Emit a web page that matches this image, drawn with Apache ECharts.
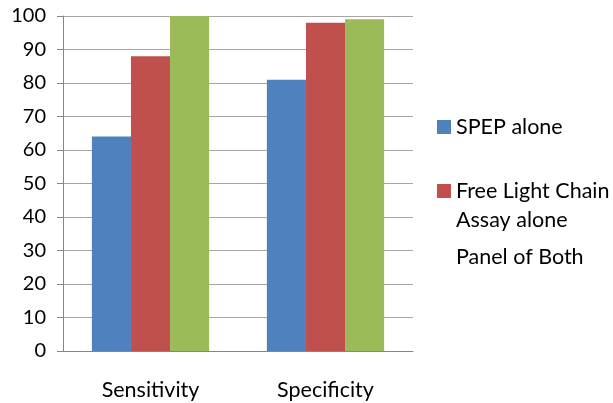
<!DOCTYPE html>
<html><head><meta charset="utf-8">
<script src="https://cdn.jsdelivr.net/npm/echarts@6/dist/echarts.min.js"></script>
<style>html,body{margin:0;padding:0;background:#fff}#c{width:613px;height:403px}</style>
</head><body><div id="c"></div>
<script>
const categories = ['Sensitivity', 'Specificity'];
const spepAlone = [64, 81];
const flcAlone = [88, 98];
const panelBoth = [100, 99];
const seriesNames = ['SPEP alone', 'Free Light Chain Assay alone', 'Panel of Both'];

const FONT = 'Lato';
const LFS = 21.5;
const chart = echarts.init(document.getElementById('c'), null, {renderer: 'canvas'});
const legendText = {fontFamily: FONT, fontSize: LFS, color: '#000'};
chart.setOption({
  animation: false,
  grid: {left: 63, right: 200, top: 16, bottom: 52},
  legend: [
    {data: [seriesNames[0]], orient: 'vertical', left: 437, top: 116, padding: 0, itemWidth: 14, itemHeight: 14, itemGap: 5, icon: 'rect', textStyle: legendText},
    {data: [seriesNames[1]], orient: 'vertical', left: 437, top: 176.5, padding: 0, itemWidth: 14, itemHeight: 43, itemGap: 5,
     icon: 'path://M0,0h14v14h-14z M0,43h0.01',
     formatter: () => 'Free Light Chain\nAssay alone',
     textStyle: Object.assign({lineHeight: 29}, legendText)},
    {data: [{name: seriesNames[2], icon: 'none'}], orient: 'vertical', left: 437, top: 246, padding: 0, itemWidth: 14, itemHeight: 14, itemGap: 5, textStyle: legendText}
  ],
  xAxis: {
    type: 'category', data: categories,
    axisLine: {lineStyle: {color: '#868686', width: 1}},
    axisTick: {length: 7, lineStyle: {color: '#868686'}},
    axisLabel: {fontFamily: FONT, fontSize: 21.5, color: '#000', margin: 28}
  },
  yAxis: {
    type: 'value', min: 0, max: 100, interval: 10,
    axisLine: {show: true, lineStyle: {color: '#868686'}},
    axisTick: {show: true, length: 6, lineStyle: {color: '#868686'}},
    axisLabel: {fontFamily: FONT, fontSize: 20, color: '#000', margin: 17},
    splitLine: {lineStyle: {color: '#a6a6a6', width: 1}}
  },
  series: [
    {name: seriesNames[0], type: 'bar', data: spepAlone, itemStyle: {color: '#4F81BD'}, barGap: '0%', barCategoryGap: '33%'},
    {name: seriesNames[1], type: 'bar', data: flcAlone, itemStyle: {color: '#C0504D'}},
    {name: seriesNames[2], type: 'bar', data: panelBoth, itemStyle: {color: '#9BBB59'}}
  ]
});
</script></body></html>
